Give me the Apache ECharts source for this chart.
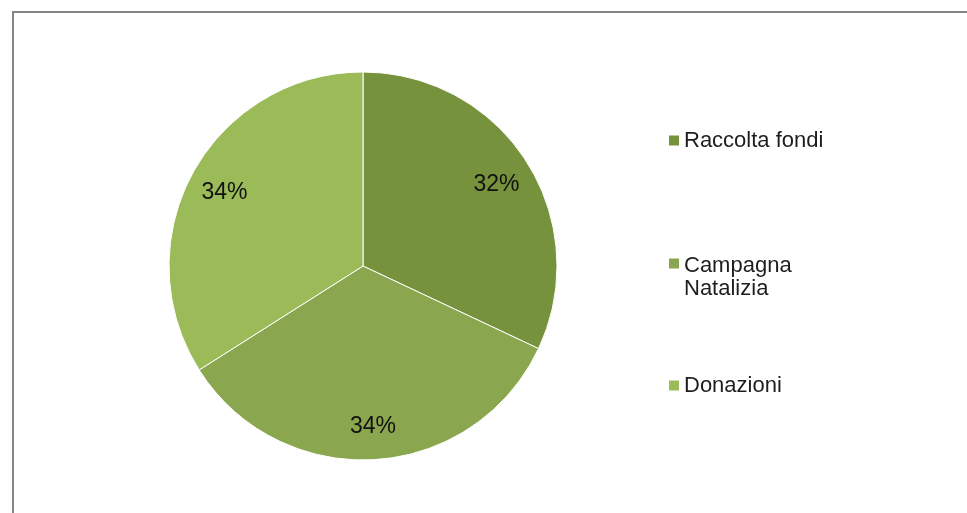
<!DOCTYPE html>
<html>
<head>
<meta charset="utf-8">
<style>
  html, body { margin: 0; padding: 0; background: #ffffff; }
  #chart { width: 967px; height: 513px; }
</style>
<script src="https://cdn.jsdelivr.net/npm/echarts@6/dist/echarts.min.js"></script>
</head>
<body>
<div id="chart"></div>
<script>
const categories = ['Raccolta fondi', 'Campagna Natalizia', 'Donazioni'];
const values = [32, 34, 34];
const colors = ['#76923c', '#8aa64f', '#9bbb59'];

const FONT = "'Liberation Sans', Arial, Helvetica, sans-serif";
const pieData = categories.map((c, i) => ({ name: c, value: values[i], itemStyle: { color: colors[i] } }));

const chart = echarts.init(document.getElementById('chart'), null, { renderer: 'canvas' });

function legendFor(name, top, extra) {
  return Object.assign({
    data: [name],
    orient: 'vertical',
    left: 669,
    top: top,
    padding: 0,
    itemWidth: 10,
    itemHeight: 10,
    itemGap: 0,
    icon: 'rect',
    selectedMode: false,
    itemStyle: { borderWidth: 0 },
    textStyle: { fontFamily: FONT, fontSize: 22, color: '#1e1e1e', lineHeight: 22 }
  }, extra || {});
}

chart.setOption({
  animation: false,
  backgroundColor: '#ffffff',
  graphic: [{
    type: 'rect',
    shape: { x: 13, y: 12, width: 1000, height: 600 },
    style: { fill: 'none', stroke: '#858585', lineWidth: 2 },
    silent: true,
    z: 0
  }],
  legend: [
    legendFor(categories[0], 129.5),
    legendFor(categories[1], 254, {
      formatter: function () { return 'Campagna\nNatalizia'; },
      icon: 'path://M0,0L10,0L10,10L0,10Z M0,37L0,37Z',
      itemHeight: 37,
      textStyle: { fontFamily: FONT, fontSize: 22, color: '#1e1e1e', lineHeight: 23 }
    }),
    legendFor(categories[2], 374.5)
  ],
  series: [
    {
      type: 'pie',
      center: [363, 266],
      radius: [0, 194],
      startAngle: 90,
      clockwise: true,
      data: pieData,
      label: { show: false },
      labelLine: { show: false },
      itemStyle: { borderColor: '#ffffff', borderWidth: 1 },
      emphasis: { disabled: true },
      silent: true
    },
    {
      type: 'pie',
      center: [363, 266],
      radius: [116, 194],
      startAngle: 90,
      clockwise: true,
      data: categories.map((c, i) => ({ name: c, value: values[i] })),
      itemStyle: { color: 'rgba(0,0,0,0)', borderWidth: 0 },
      label: {
        show: true,
        position: 'inside',
        formatter: '{d}%',
        fontFamily: FONT,
        fontSize: 23,
        color: '#111111',
        offset: [0, 3]
      },
      labelLine: { show: false },
      emphasis: { disabled: true },
      silent: true
    }
  ]
});
</script>
</body>
</html>
